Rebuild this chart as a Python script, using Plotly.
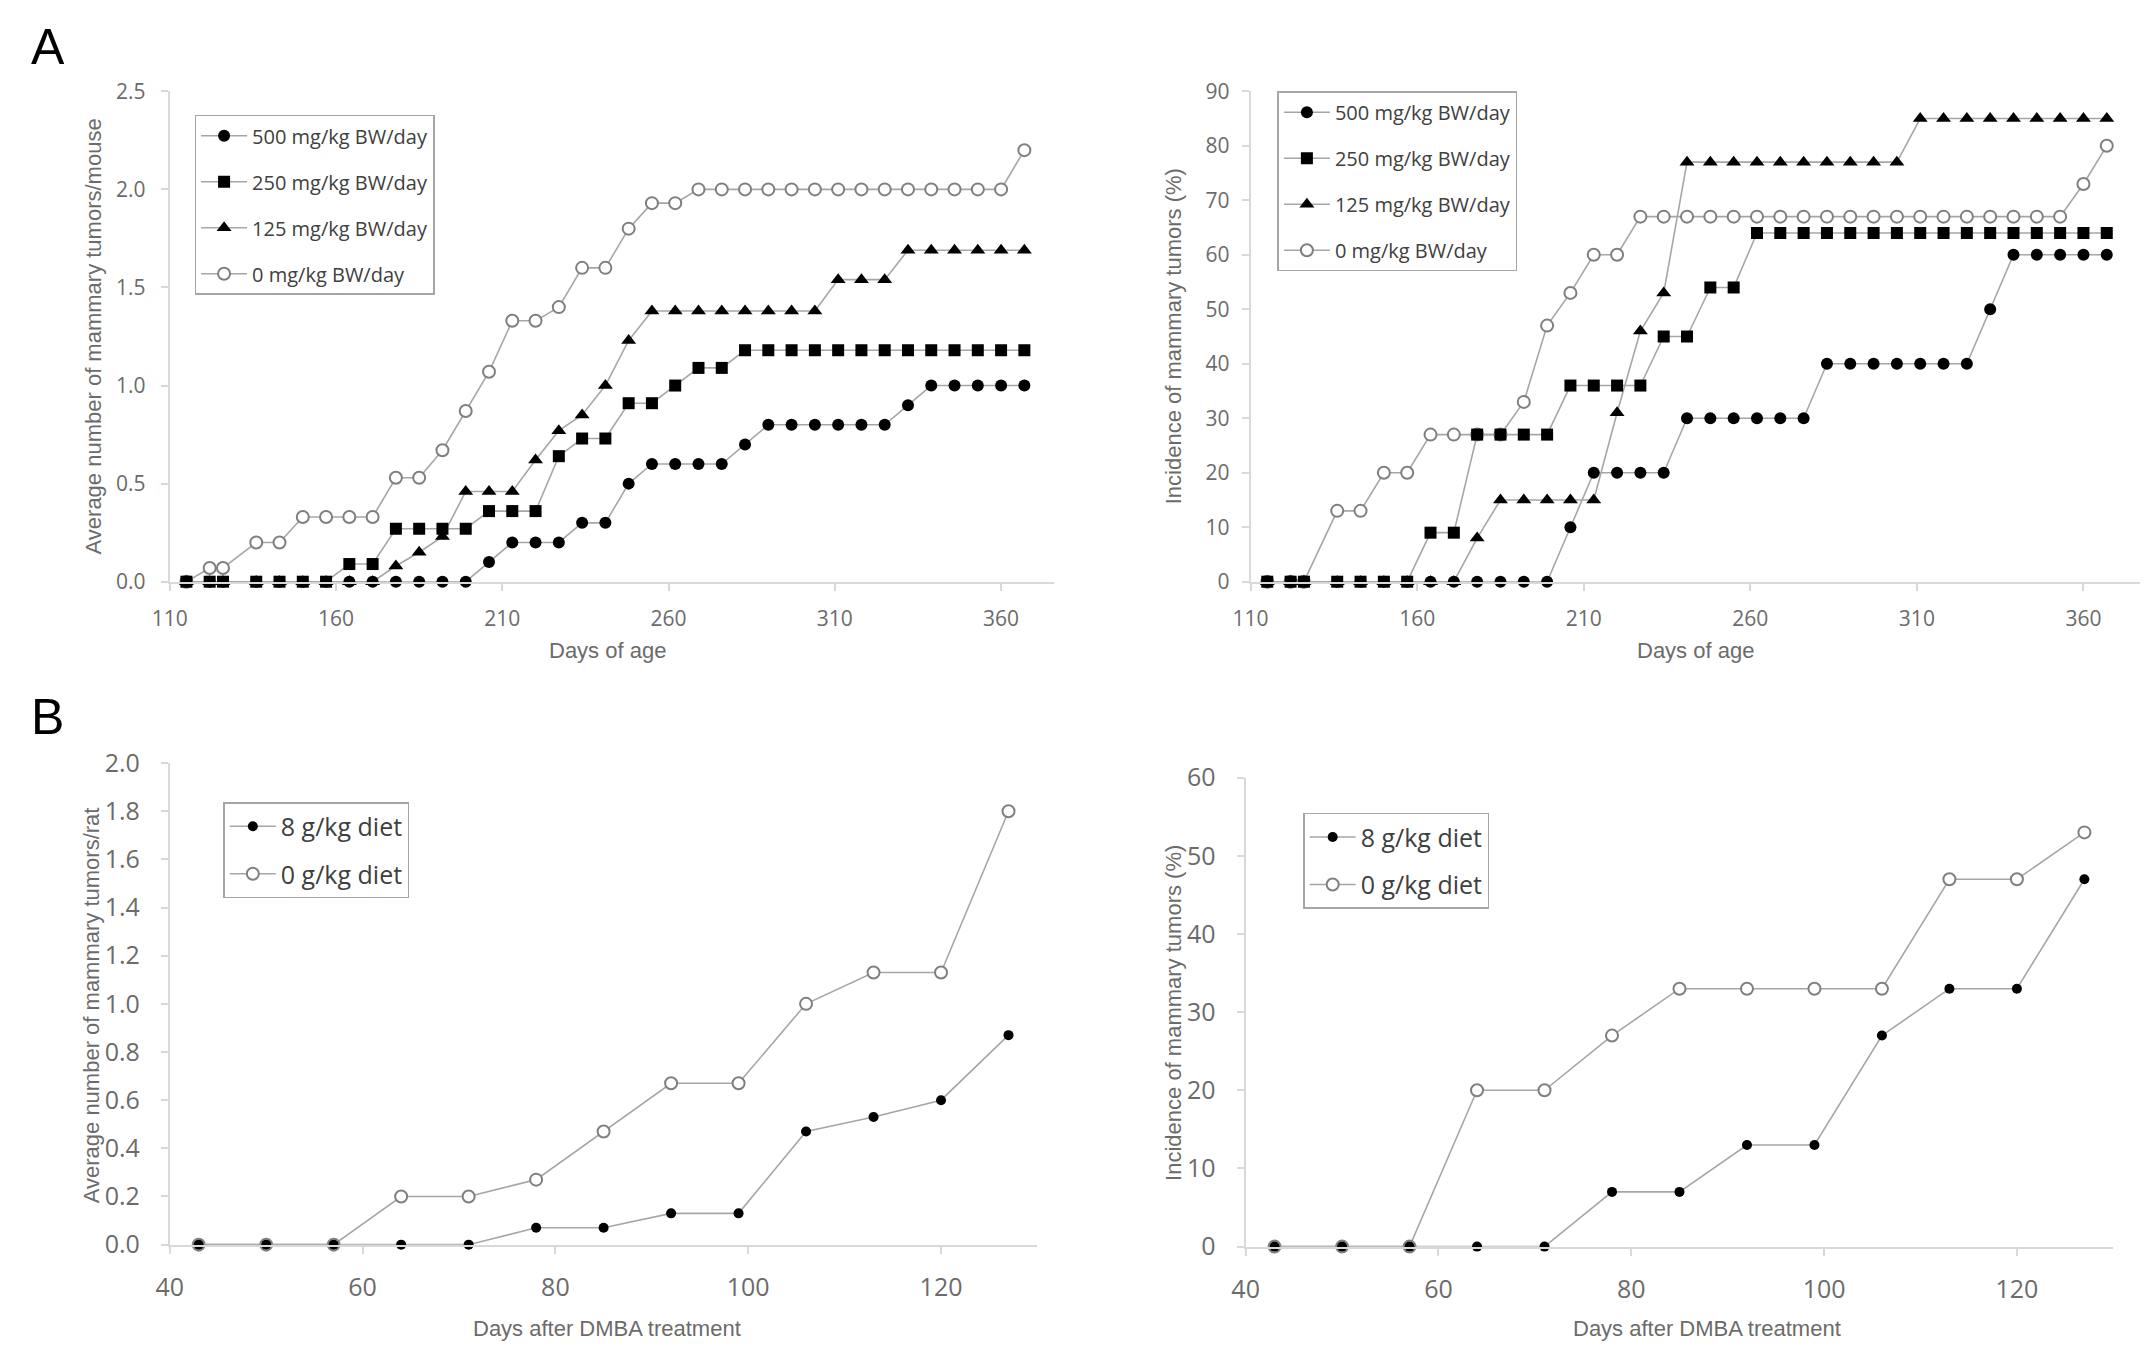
import plotly.graph_objects as go

# Days of age at each observation (panel A, mice)
days_a = [115, 122, 126, 136, 143, 150, 157, 164, 171, 178, 185, 192, 199, 206, 213,
          220, 227, 234, 241, 248, 255, 262, 269, 276, 283, 290, 297, 304, 311, 318,
          325, 332, 339, 346, 353, 360, 367]

# Average number of mammary tumors/mouse
avg_500 = [0, 0, 0, 0, 0, 0, 0, 0, 0, 0, 0, 0, 0, 0.1, 0.2, 0.2, 0.2, 0.3, 0.3, 0.5,
           0.6, 0.6, 0.6, 0.6, 0.7, 0.8, 0.8, 0.8, 0.8, 0.8, 0.8, 0.9, 1.0, 1.0, 1.0, 1.0, 1.0]
avg_250 = [0, 0, 0, 0, 0, 0, 0, 0.09, 0.09, 0.27, 0.27, 0.27, 0.27, 0.36, 0.36, 0.36,
           0.64, 0.73, 0.73, 0.91, 0.91, 1.0, 1.09, 1.09, 1.18, 1.18, 1.18, 1.18, 1.18,
           1.18, 1.18, 1.18, 1.18, 1.18, 1.18, 1.18, 1.18]
avg_125 = [0, 0, 0, 0, 0, 0, 0, 0, 0, 0.08, 0.15, 0.23, 0.46, 0.46, 0.46, 0.62, 0.77,
           0.85, 1.0, 1.23, 1.38, 1.38, 1.38, 1.38, 1.38, 1.38, 1.38, 1.38, 1.54, 1.54,
           1.54, 1.69, 1.69, 1.69, 1.69, 1.69, 1.69]
avg_0 = [0, 0.07, 0.07, 0.2, 0.2, 0.33, 0.33, 0.33, 0.33, 0.53, 0.53, 0.67, 0.87, 1.07,
         1.33, 1.33, 1.4, 1.6, 1.6, 1.8, 1.93, 1.93, 2.0, 2.0, 2.0, 2.0, 2.0, 2.0, 2.0,
         2.0, 2.0, 2.0, 2.0, 2.0, 2.0, 2.0, 2.2]

# Incidence of mammary tumors (%)
inc_500 = [0, 0, 0, 0, 0, 0, 0, 0, 0, 0, 0, 0, 0, 10, 20, 20, 20, 20, 30, 30, 30, 30,
           30, 30, 40, 40, 40, 40, 40, 40, 40, 50, 60, 60, 60, 60, 60]
inc_250 = [0, 0, 0, 0, 0, 0, 0, 9, 9, 27, 27, 27, 27, 36, 36, 36, 36, 45, 45, 54, 54,
           64, 64, 64, 64, 64, 64, 64, 64, 64, 64, 64, 64, 64, 64, 64, 64]
inc_125 = [0, 0, 0, 0, 0, 0, 0, 0, 0, 8, 15, 15, 15, 15, 15, 31, 46, 53, 77, 77, 77, 77,
           77, 77, 77, 77, 77, 77, 85, 85, 85, 85, 85, 85, 85, 85, 85]
inc_0 = [0, 0, 0, 13, 13, 20, 20, 27, 27, 27, 27, 33, 47, 53, 60, 60, 67, 67, 67, 67,
         67, 67, 67, 67, 67, 67, 67, 67, 67, 67, 67, 67, 67, 67, 67, 73, 80]

dose_labels_a = ["500 mg/kg BW/day", "250 mg/kg BW/day", "125 mg/kg BW/day", "0 mg/kg BW/day"]

# Panel B (rats), days after DMBA treatment
days_b = [43, 50, 57, 64, 71, 78, 85, 92, 99, 106, 113, 120, 127]
avg_8g = [0, 0, 0, 0, 0, 0.07, 0.07, 0.13, 0.13, 0.47, 0.53, 0.60, 0.87]
avg_0g = [0, 0, 0, 0.2, 0.2, 0.27, 0.47, 0.67, 0.67, 1.0, 1.13, 1.13, 1.8]
inc_8g = [0, 0, 0, 0, 0, 7, 7, 13, 13, 27, 33, 33, 47]
inc_0g = [0, 0, 0, 20, 20, 27, 33, 33, 33, 33, 47, 47, 53]

dose_labels_b = ["8 g/kg diet", "0 g/kg diet"]

# page has an 8px body margin, so the figure is a bit smaller and positions are shifted
PAGE_PAD = 8
W, H = 2150 - PAGE_PAD, 1364 - PAGE_PAD
TICK_FONT = "Open Sans"
TITLE_FONT = "Liberation Sans, Arial"
LINE_GREY = "#a6a6a6"
AXIS_GREY = "#d9d9d9"
TEXT_GREY = "#6b6b6b"


def px_x(v):
    return (v - PAGE_PAD) / W


def px_y(v):
    return 1 - (v - PAGE_PAD) / H


fig = go.Figure()


def add_series(x, y, name, xa, ya, legend, symbol, size, rank, open_marker=False):
    if open_marker:
        marker = dict(symbol=symbol, size=size, color="white",
                      line=dict(color="#7f7f7f", width=2))
    else:
        marker = dict(symbol=symbol, size=size, color="black",
                      line=dict(color="black", width=0))
    fig.add_trace(go.Scatter(
        x=x, y=y, name=name, mode="lines+markers",
        line=dict(color=LINE_GREY, width=1.6),
        marker=marker, xaxis=xa, yaxis=ya, legend=legend,
        legendgroup=name + legend, legendrank=rank, cliponaxis=False,
    ))


# draw order: open circles at the bottom, squares on top
a_sets = [
    ("x", "y", "legend", [avg_500, avg_250, avg_125, avg_0]),
    ("x2", "y2", "legend2", [inc_500, inc_250, inc_125, inc_0]),
]
for xa, ya, lg, vals in a_sets:
    add_series(days_a, vals[3], dose_labels_a[3], xa, ya, lg, "circle", 12, 4, open_marker=True)
    add_series(days_a, vals[2], dose_labels_a[2], xa, ya, lg, "triangle-up", 13, 3)
    add_series(days_a, vals[0], dose_labels_a[0], xa, ya, lg, "circle", 12, 1)
    add_series(days_a, vals[1], dose_labels_a[1], xa, ya, lg, "square", 12, 2)

b_sets = [
    ("x3", "y3", "legend3", [avg_8g, avg_0g]),
    ("x4", "y4", "legend4", [inc_8g, inc_0g]),
]
for xa, ya, lg, vals in b_sets:
    add_series(days_b, vals[1], dose_labels_b[1], xa, ya, lg, "circle", 12, 2, open_marker=True)
    add_series(days_b, vals[0], dose_labels_b[0], xa, ya, lg, "circle", 10, 1)


def x_axis(domain, rng, dtick, anchor, size, standoff):
    return dict(domain=domain, range=rng, dtick=dtick, tick0=rng[0], anchor=anchor,
                showgrid=False, zeroline=False, showline=True, linecolor=AXIS_GREY,
                linewidth=2, ticks="outside", ticklen=7, tickcolor=AXIS_GREY, tickwidth=1.5,
                tickfont=dict(family=TICK_FONT, size=size, color=TEXT_GREY),
                ticklabelstandoff=standoff)


def y_axis(domain, rng, dtick, anchor, size, fmt, standoff):
    return dict(domain=domain, range=rng, dtick=dtick, tick0=0, anchor=anchor,
                showgrid=False, zeroline=False, showline=True, linecolor=AXIS_GREY,
                linewidth=2, ticks="outside", ticklen=7, tickcolor=AXIS_GREY, tickwidth=1.5,
                tickformat=fmt, tickfont=dict(family=TICK_FONT, size=size, color=TEXT_GREY),
                ticklabelstandoff=standoff)


def legend_box(x, y, size, gap):
    return dict(x=x, y=y, xanchor="left", yanchor="top", bgcolor="white",
                bordercolor="#a6a6a6", borderwidth=1.5, tracegroupgap=gap,
                traceorder="grouped", itemwidth=46,
                font=dict(family=TICK_FONT, size=size, color="#404040"))


fig.update_layout(
    width=W, height=H,
    margin=dict(l=0, r=0, t=0, b=0),
    paper_bgcolor="white", plot_bgcolor="white",
    xaxis=x_axis([px_x(153), px_x(1045)], [110, 376], 50, "y", 21, 10),
    yaxis=y_axis([px_y(578), px_y(75)], [0, 2.5], 0.5, "x", 21, ".1f", 11),
    xaxis2=x_axis([px_x(1243), px_x(2140)], [110, 377], 50, "y2", 21, 10),
    yaxis2=y_axis([px_y(578), px_y(75)], [0, 90], 10, "x2", 21, "d", 8),
    xaxis3=x_axis([px_x(153), px_x(1028)], [40, 130], 20, "y3", 25, 12),
    yaxis3=y_axis([px_y(1258), px_y(764)], [0, 2.0], 0.2, "x3", 25, ".1f", 16),
    xaxis4=x_axis([px_x(1238), px_x(2113)], [40, 130], 20, "y4", 25, 12),
    yaxis4=y_axis([px_y(1260), px_y(779)], [0, 60], 10, "x4", 25, "d", 16),
    legend=legend_box(px_x(178), px_y(99), 20, 17),
    legend2=legend_box(px_x(1270), px_y(75), 20, 17),
    legend3=legend_box(px_x(207), px_y(804), 25, 12),
    legend4=legend_box(px_x(1296), px_y(815), 25, 12),
)

# axis titles and panel letters
titles = [
    ("Average number of mammary tumors/mouse", 76, 326, -90),
    ("Incidence of mammary tumors (%)", 1165, 326, -90),
    ("Days of age", 594, 649, 0),
    ("Days of age", 1692, 649, 0),
    ("Average number of mammary tumors/rat", 74, 1012, -90),
    ("Incidence of mammary tumors (%)", 1165, 1020, -90),
    ("Days after DMBA treatment", 594, 1344, 0),
    ("Days after DMBA treatment", 1703, 1344, 0),
]
for text, cx, cy, ang in titles:
    fig.add_annotation(text=text, x=px_x(cx), y=px_y(cy), xref="paper", yref="paper",
                       showarrow=False, textangle=ang, xanchor="center", yanchor="middle",
                       font=dict(family=TITLE_FONT, size=22, color=TEXT_GREY))

for letter, cy in [("A", 30), ("B", 717)]:
    fig.add_annotation(text=letter, x=px_x(30), y=px_y(cy), xref="paper", yref="paper",
                       showarrow=False, xanchor="center", yanchor="middle",
                       font=dict(family=TITLE_FONT, size=50, color="black"))

fig.write_html("out.html")
